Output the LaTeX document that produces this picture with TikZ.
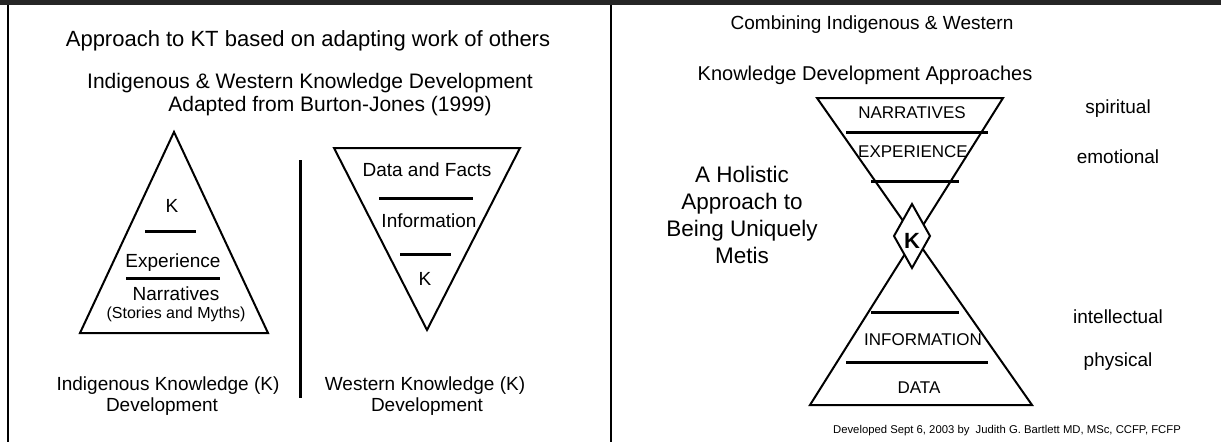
\documentclass[tikz,border=0pt]{standalone}
\usepackage{fontspec}
\setmainfont{Liberation Sans}
\usetikzlibrary{positioning}
\tikzset{
  txt/.style={inner sep=0pt, anchor=base, font=\fontsize{19}{22}\selectfont},
  head/.style={txt, font=\fontsize{21}{25}\selectfont},
  caps/.style={txt, font=\fontsize{17}{20}\selectfont},
  bar/.style={line width=3pt},
  edge/.style={line width=2pt, line join=miter},
}
\begin{document}
\begin{tikzpicture}[x=1pt,y=-1pt]
\useasboundingbox (0,0) rectangle (1221,442);
\fill[black!85] (0,0) rectangle (1221,5);
\draw[line width=2pt] (8.3,5) -- (8.3,442);
\draw[line width=2pt] (611,5) -- (611,442);

% left panel
\node[head, font=\fontsize{22}{26}\selectfont] (title) at (308,46) {Approach to KT based on adapting work of others};
\node[head] (subA) at (310,88) {Indigenous \& Western Knowledge Development};
\node[head] (subB) at (330,111) {Adapted from Burton-Jones (1999)};

\draw[edge] (174,132) -- (268,333) -- (80,333) -- cycle;
\node[txt] (kI) at (172,212) {K};
\draw[bar] (145,231) -- (196,231);
\node[txt] (exp) at (173,267) {Experience};
\draw[bar] (126,278) -- (220,278);
\node[txt] (narr) at (176,300) {Narratives};
\node[txt, font=\fontsize{16}{19}\selectfont] (myth) at (176,318) {(Stories and Myths)};
\node[txt] (indA) at (168,390) {Indigenous Knowledge (K)};
\node[txt] (indB) at (162,411) {Development};

\draw[line width=3pt] (300,160) -- (300,398);

\draw[edge] (334,148) -- (520,148) -- (427,330) -- cycle;
\node[txt] (data) at (427,176) {Data and Facts};
\draw[bar] (379,198) -- (473,198);
\node[txt] (info) at (429,227) {Information};
\draw[bar] (400,254) -- (451,254);
\node[txt] (kW) at (425,285) {K};
\node[txt] (wesA) at (425,390) {Western Knowledge (K)};
\node[txt] (wesB) at (427,411) {Development};

% right panel
\node[head, font=\fontsize{19}{23}\selectfont] (comb) at (872,29) {Combining Indigenous \& Western};
\node[head, font=\fontsize{20}{24}\selectfont] (appr) at (865,80) {Knowledge Development Approaches};

\draw[edge] (817,98) -- (1003,98) -- (810,405) -- (1032,405) -- cycle;
\node[caps] (narrC) at (912,118) {NARRATIVES};
\draw[bar] (846,132) -- (988,132);
\node[caps] (expC) at (913,157) {EXPERIENCE};
\draw[bar] (871,181) -- (959,181);
\draw[edge, fill=white] (912,204) -- (930,236) -- (912,268) -- (894,236) -- cycle;
\node[txt, font=\bfseries\fontsize{22}{26}\selectfont] (kC) at (912,248) {K};
\draw[bar] (871,312) -- (959,312);
\node[caps] (infoC) at (923,345) {INFORMATION};
\draw[bar] (846,362) -- (988,362);
\node[caps] (dataC) at (919,393) {DATA};

\node[inner sep=0pt, align=center, font=\fontsize{22.5}{27}\selectfont] (holo) at (742,214.5) {A Holistic\\Approach to\\Being Uniquely\\Metis};

\node[txt] (spir) at (1118,113) {spiritual};
\node[txt] (emo) at (1118,163) {emotional};
\node[txt] (intel) at (1118,323) {intellectual};
\node[txt] (phys) at (1118,366) {physical};

\node[txt, font=\fontsize{11.3}{13}\selectfont] (credit) at (1007,433) {Developed Sept 6, 2003 by\ \ Judith G. Bartlett MD, MSc, CCFP, FCFP};
\end{tikzpicture}
\end{document}
